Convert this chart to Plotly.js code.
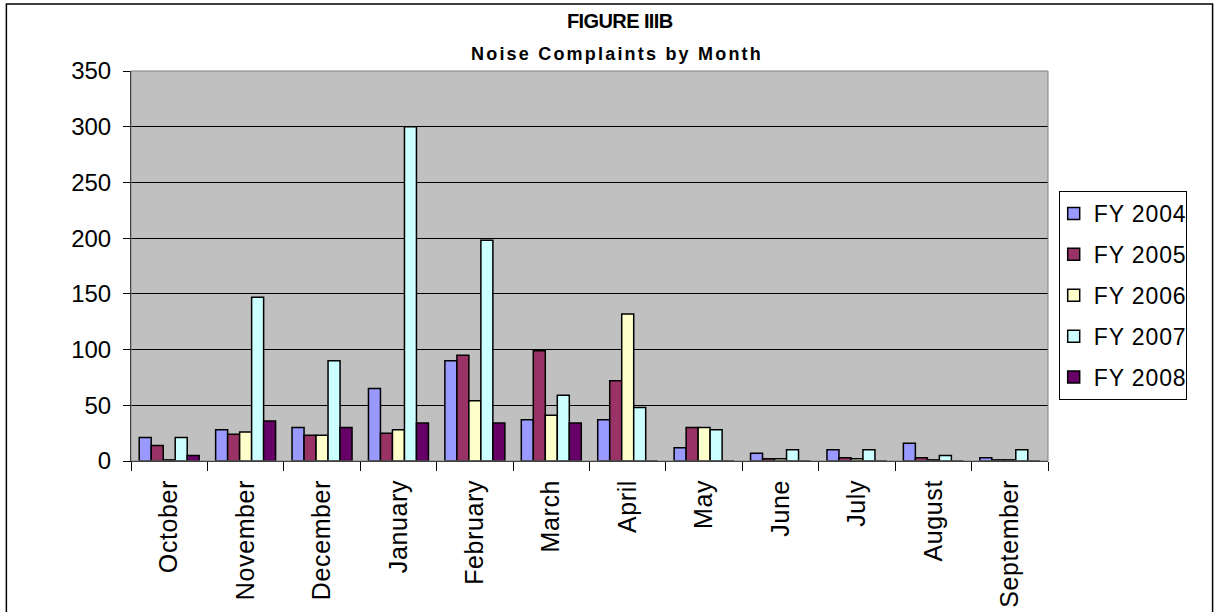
<!DOCTYPE html>
<html>
<head>
<meta charset="utf-8">
<script src="https://cdn.plot.ly/plotly-3.0.1.min.js"></script>
<style>
html,body{margin:0;padding:0;background:#fff;}
#chart{width:1219px;height:612px;}
#chart .xtick text {letter-spacing:0.6px;}
#chart .legendtext {letter-spacing:0.9px;}
</style>
</head>
<body>
<div id="chart"></div>
<script>
var months = ["October","November","December","January","February","March","April","May","June","July","August","September"];
var seriesNames = ["FY 2004","FY 2005","FY 2006","FY 2007","FY 2008"];
var fy2004 = [21, 28, 30, 65, 90, 37, 37, 12, 7, 10, 16, 3];
var fy2005 = [14, 24, 23, 25, 95, 99, 72, 30, 2, 3, 3, 1];
var fy2006 = [1, 26, 23, 28, 54, 41, 132, 30, 2, 2, 1, 1];
var fy2007 = [21, 147, 90, 300, 198, 59, 48, 28, 10, 10, 5, 10];
var fy2008 = [5, 36, 30, 34, 34, 34, 0, 0, 0, 0, 0, 0];
var seriesValues = [fy2004, fy2005, fy2006, fy2007, fy2008];
var colors = ["#9999FF", "#993366", "#FFFFCC", "#CCFFFF", "#660066"];

var traces = seriesNames.map(function(name, i){
  return {
    type: "bar",
    name: name,
    x: months,
    y: seriesValues[i],
    legendgroup: "g" + i,
    marker: {color: colors[i], line: {color: "#000000", width: 1.5}}
  };
});

var L = 130.7, R = 1048.3, T = 71, B = 461;
var W = R - L, H = B - T;
function px(x){ return (x - L) / W; }
function py(y){ return (B - y) / H; }

var layout = {
  width: 1219, height: 612,
  margin: {l: L, r: 1219 - R, t: T, b: 612 - B, pad: 0},
  paper_bgcolor: "#ffffff",
  plot_bgcolor: "#C0C0C0",
  font: {family: "Arial, 'Liberation Sans', sans-serif", color: "#000000", size: 24},
  barmode: "group",
  bargap: 0.215,
  bargroupgap: 0,
  showlegend: true,
  legend: {
    x: px(1059), y: py(191), xanchor: "left", yanchor: "top",
    bgcolor: "#ffffff", bordercolor: "#000000", borderwidth: 1,
    font: {size: 23, family: "Arial, 'Liberation Sans', sans-serif"},
    traceorder: "grouped", tracegroupgap: 8,
    itemwidth: 30, indentation: -6
  },
  xaxis: {
    type: "category",
    tickson: "boundaries",
    ticks: "outside", ticklen: 9, tickcolor: "#000000", tickwidth: 1,
    tickangle: -90,
    ticklabelstandoff: 8,
    showline: true, linecolor: "#000000", linewidth: 1,
    showgrid: false, zeroline: false,
    tickfont: {size: 25}
  },
  yaxis: {
    range: [0, 350], dtick: 50, tick0: 0,
    ticks: "outside", ticklen: 7, tickcolor: "#000000", tickwidth: 1,
    ticklabelstandoff: 7,
    showline: true, linecolor: "#000000", linewidth: 1,
    showgrid: true, gridcolor: "#000000", gridwidth: 1,
    zeroline: false,
    tickfont: {size: 24}
  },
  shapes: [
    {type: "rect", xref: "paper", yref: "paper", x0: 0, x1: 1, y0: 0, y1: 1,
     line: {color: "#808080", width: 1}, layer: "above"},
    {type: "rect", xref: "paper", yref: "paper", x0: px(6), x1: px(1213), y0: py(700), y1: py(4),
     line: {color: "#000000", width: 1.5}, layer: "below"}
  ],
  annotations: [
    {xref: "paper", yref: "paper", x: px(620), y: py(21), xanchor: "center", yanchor: "middle",
     text: "<b><span style=\"letter-spacing:-0.6px\">FIGURE IIIB</span></b>", showarrow: false, font: {size: 20}},
    {xref: "paper", yref: "paper", x: px(617), y: py(54), xanchor: "center", yanchor: "middle",
     text: "<b><span style=\"letter-spacing:2.2px\">Noise Complaints by Month</span></b>", showarrow: false, font: {size: 18}}
  ]
};

Plotly.newPlot("chart", traces, layout, {displayModeBar: false, staticPlot: true});
</script>
</body>
</html>
